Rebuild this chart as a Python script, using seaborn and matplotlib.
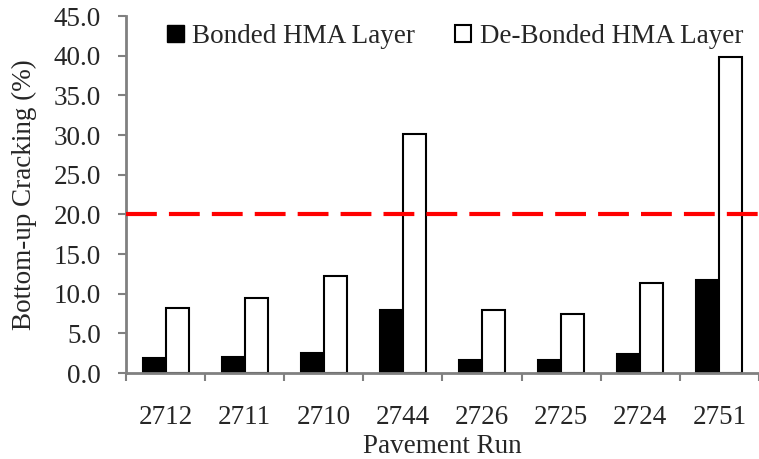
import matplotlib
matplotlib.use("Agg")
import matplotlib.pyplot as plt
from matplotlib.patches import Patch
from matplotlib.ticker import FormatStrFormatter, FixedLocator
import pandas as pd
import seaborn as sns

runs = ['2712', '2711', '2710', '2744', '2726', '2725', '2724', '2751']
bonded = [1.9, 2.1, 2.6, 8.0, 1.6, 1.6, 2.4, 11.8]
debonded = [8.2, 9.5, 12.2, 30.1, 7.9, 7.4, 11.3, 39.9]
series_names = ['Bonded HMA Layer', 'De-Bonded HMA Layer']
limit = 20.0

df = pd.DataFrame({
    'run': runs * 2,
    'cracking': bonded + debonded,
    'layer': [series_names[0]] * len(runs) + [series_names[1]] * len(runs),
})

sns.set_style("white")
plt.rcParams['font.family'] = ['Liberation Serif', 'DejaVu Serif']
fs = 19.5

fig = plt.figure(figsize=(7.59, 4.59), dpi=100)
ax = fig.add_axes([0.166, 0.187, 0.834, 0.778])

sns.barplot(data=df, x='run', y='cracking', hue='layer', order=runs,
            hue_order=series_names, palette=['black', 'white'],
            edgecolor='black', linewidth=1.5, width=0.58, ax=ax, legend=False)

ax.axhline(limit, color='#ff0000', lw=3, dashes=(7.4, 2.9), zorder=5)

ax.set_xlim(-0.5, len(runs) - 0.5)
ax.set_ylim(0, 45)
ax.set_yticks([0, 5, 10, 15, 20, 25, 30, 35, 40, 45])
ax.yaxis.set_major_formatter(FormatStrFormatter('%.1f'))

# tick marks between groups, labels at group centres
ax.xaxis.set_minor_locator(FixedLocator([i - 0.5 for i in range(len(runs) + 1)]))
ax.tick_params(axis='x', which='major', length=0, pad=23, labelsize=fs)
ax.tick_params(axis='x', which='minor', length=6, width=1.5, color='#808080', direction='out', bottom=True)
ax.tick_params(axis='y', length=6, width=1.5, color='#808080', direction='out', left=True, pad=12, labelsize=fs)

for side in ['top', 'right']:
    ax.spines[side].set_visible(False)
for side in ['left', 'bottom']:
    ax.spines[side].set_color('#808080')
    ax.spines[side].set_linewidth(2)

ax.set_xlabel('Pavement Run', fontsize=fs, labelpad=3)
ax.set_ylabel('Bottom-up Cracking (%)', fontsize=fs, labelpad=12)

handles = [Patch(facecolor='black', edgecolor='black', label=series_names[0]),
           Patch(facecolor='white', edgecolor='black', linewidth=1.5, label=series_names[1])]
ax.legend(handles=handles, ncol=2, frameon=False, fontsize=fs, loc='upper center',
          bbox_to_anchor=(0.52, 1.045), handlelength=0.6, handleheight=0.6,
          handletextpad=0.3, columnspacing=1.5)

fig.savefig('out.png', dpi=100)
